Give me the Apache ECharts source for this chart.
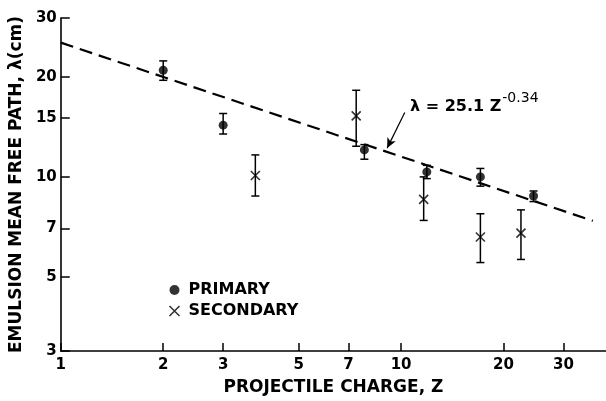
<!DOCTYPE html>
<html lang="en">
<head>
  <meta charset="UTF-8">
  <title>Emulsion mean free path</title>
  <script src="https://cdn.jsdelivr.net/npm/echarts@6/dist/echarts.min.js"></script>
  <style>
    html, body { margin: 0; padding: 0; background: #fff; }
    #chart { width: 606px; height: 401px; }
  </style>
</head>
<body>
  <div id="chart"></div>
</body>
</html>
<script>
  // data: [Z, lambda], error bars as [Z, low, high]
  var primaryZ = [2.0, 3.0, 7.8, 11.9, 17.1, 24.5]
  var primaryLambda = [20.9, 14.3, 12.05, 10.35, 10.0, 8.76]
  var primaryLow = [19.5, 13.45, 11.3, 9.88, 9.38, 8.43]
  var primaryHigh = [22.3, 15.5, 12.5, 10.83, 10.6, 9.07]

  var secondaryZ = [3.73, 7.38, 11.65, 17.1, 22.5]
  var secondaryLambda = [10.1, 15.25, 8.56, 6.6, 6.78]
  var secondaryLow = [8.76, 12.36, 7.4, 5.53, 5.65]
  var secondaryHigh = [11.64, 18.2, 10.0, 7.75, 7.96]

  // dashed fit, end points
  var fitZ = [1, 36.6]
  var fitLambda = [25.3, 7.38]

  var xTicks = [1, 2, 3, 5, 7, 10, 20, 30]
  var yTicks = [3, 5, 7, 10, 15, 20, 30]

  var font = 'DejaVu Sans, Verdana, sans-serif'
  var crossPath = 'path://M0,0L10,10M10,0L0,10'

  function zip(a, b) {
    return a.map(function (v, i) { return [v, b[i]] })
  }
  function bars(z, lo, hi) {
    return z.map(function (v, i) { return [v, lo[i], hi[i]] })
  }

  // error bar with caps
  function renderErr(params, api) {
    var top = api.coord([api.value(0), api.value(2)])
    var bot = api.coord([api.value(0), api.value(1)])
    var w = 4
    var st = { stroke: '#000', lineWidth: 1.5 }
    return {
      type: 'group',
      children: [
        { type: 'line', shape: { x1: top[0], y1: top[1], x2: bot[0], y2: bot[1] }, style: st },
        { type: 'line', shape: { x1: top[0] - w, y1: top[1], x2: top[0] + w, y2: top[1] }, style: st },
        { type: 'line', shape: { x1: bot[0] - w, y1: bot[1], x2: bot[0] + w, y2: bot[1] }, style: st }
      ]
    }
  }

  var chart = echarts.init(document.getElementById('chart'))

  chart.setOption({
    animation: false,
    textStyle: { fontFamily: font },
    grid: { left: 60, right: 0, top: 18, bottom: 45 },
    legend: {
      orient: 'vertical',
      left: 162,
      top: 277,
      itemWidth: 10,
      itemHeight: 10,
      itemGap: 5,
      textStyle: { fontSize: 16, fontWeight: 'bold', color: '#000', fontFamily: font, padding: [0, 0, 0, 4] },
      data: [
        { name: 'PRIMARY', icon: 'circle', itemStyle: { color: '#000' } },
        { name: 'SECONDARY', icon: crossPath, itemStyle: { color: 'none', borderColor: '#000', borderWidth: 1.6 } }
      ]
    },
    xAxis: {
      type: 'log',
      logBase: 10,
      min: 1,
      max: 40,
      name: 'PROJECTILE CHARGE, Z',
      nameLocation: 'middle',
      nameGap: 28,
      nameTextStyle: { fontSize: 17, fontWeight: 'bold', color: '#000', fontFamily: font },
      axisLine: { lineStyle: { color: '#000', width: 1.6 } },
      axisTick: { inside: true, length: 8, customValues: xTicks, lineStyle: { color: '#000', width: 1.5 } },
      axisLabel: { customValues: xTicks, color: '#000', fontSize: 15, fontWeight: 'bold', margin: 7, fontFamily: font },
      splitLine: { show: false },
      minorTick: { show: false }
    },
    yAxis: {
      type: 'log',
      logBase: 10,
      min: 3,
      max: 30,
      name: 'EMULSION MEAN FREE PATH, λ(cm)',
      nameLocation: 'middle',
      nameGap: 30,
      nameTextStyle: { fontSize: 17, fontWeight: 'bold', color: '#000', fontFamily: font },
      axisLine: { lineStyle: { color: '#000', width: 1.6 } },
      axisTick: { inside: true, length: 9, customValues: yTicks, lineStyle: { color: '#000', width: 1.5 } },
      axisLabel: { customValues: yTicks, color: '#000', fontSize: 15, fontWeight: 'bold', margin: 4, fontFamily: font },
      splitLine: { show: false },
      minorTick: { show: false }
    },
    graphic: [
      {
        type: 'text',
        left: 410,
        top: 91,
        style: {
          text: '{m|λ = 25.1 Z}{s|-0.34}',
          fill: '#000',
          rich: {
            m: { fontSize: 16, fontWeight: 'bold', fontFamily: font, fill: '#000', padding: [8, 0, 0, 0] },
            s: { fontSize: 14, fontFamily: font, fill: '#000', verticalAlign: 'top', padding: [0, 0, 8, 1] }
          }
        }
      }
    ],
    series: [
      {
        name: 'fit',
        type: 'line',
        data: zip(fitZ, fitLambda),
        symbol: 'none',
        lineStyle: { color: '#000', width: 2.2, type: [13, 7] },
        markLine: {
          silent: true,
          symbol: ['none', 'arrow'],
          symbolSize: [7, 10],
          label: { show: false },
          lineStyle: { color: '#000', width: 1.2, type: 'solid' },
          data: [[{ coord: [10.25, 15.6] }, { coord: [9.1, 12.2] }]]
        }
      },
      {
        name: 'PRIMARY err',
        type: 'custom',
        renderItem: renderErr,
        data: bars(primaryZ, primaryLow, primaryHigh),
        encode: { x: 0, y: [1, 2] },
        z: 3
      },
      {
        name: 'SECONDARY err',
        type: 'custom',
        renderItem: renderErr,
        data: bars(secondaryZ, secondaryLow, secondaryHigh),
        encode: { x: 0, y: [1, 2] },
        z: 3
      },
      {
        name: 'PRIMARY',
        type: 'scatter',
        data: zip(primaryZ, primaryLambda),
        symbol: 'circle',
        symbolSize: 9,
        itemStyle: { color: '#000' },
        z: 4
      },
      {
        name: 'SECONDARY',
        type: 'scatter',
        data: zip(secondaryZ, secondaryLambda),
        symbol: crossPath,
        symbolSize: 9,
        itemStyle: { color: 'none', borderColor: '#000', borderWidth: 1.6 },
        z: 4
      }
    ]
  })
</script>
